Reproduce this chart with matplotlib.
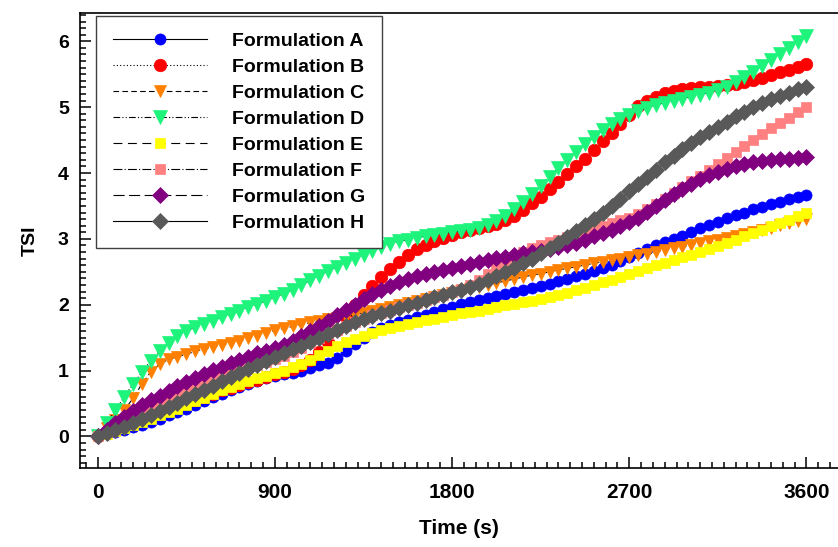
import numpy as np
import matplotlib
matplotlib.use("Agg")
import matplotlib.pyplot as plt
from matplotlib.ticker import MultipleLocator

# TSI readings, one scan every 45 s from 0 to 3600 s
time_s = list(range(0, 3601, 45))

tsi_a = [0, 0.03, 0.06, 0.10, 0.14, 0.18, 0.22, 0.27, 0.32, 0.37,
         0.42, 0.48, 0.54, 0.60, 0.65, 0.70, 0.75, 0.80, 0.84, 0.88,
         0.92, 0.95, 0.97, 1.00, 1.04, 1.08, 1.12, 1.19, 1.29, 1.40,
         1.50, 1.58, 1.64, 1.69, 1.73, 1.77, 1.81, 1.85, 1.89, 1.93,
         1.97, 2.01, 2.04, 2.07, 2.10, 2.13, 2.16, 2.20, 2.23, 2.26,
         2.29, 2.32, 2.36, 2.39, 2.43, 2.47, 2.51, 2.56, 2.61, 2.67,
         2.73, 2.79, 2.85, 2.90, 2.95, 3.00, 3.05, 3.10, 3.16, 3.21,
         3.26, 3.31, 3.36, 3.40, 3.45, 3.49, 3.53, 3.56, 3.60, 3.63,
         3.67]
tsi_b = [0, 0.05, 0.10, 0.15, 0.20, 0.25, 0.30, 0.35, 0.40, 0.45,
         0.50, 0.55, 0.60, 0.65, 0.70, 0.74, 0.78, 0.82, 0.86, 0.90,
         0.94, 0.98, 1.02, 1.08, 1.16, 1.28, 1.44, 1.62, 1.81, 1.99,
         2.15, 2.29, 2.42, 2.54, 2.65, 2.75, 2.84, 2.91, 2.97, 3.02,
         3.06, 3.10, 3.13, 3.16, 3.19, 3.23, 3.28, 3.35, 3.44, 3.54,
         3.64, 3.75, 3.86, 3.98, 4.10, 4.22, 4.35, 4.48, 4.61, 4.74,
         4.88, 5.02, 5.10, 5.16, 5.21, 5.24, 5.27, 5.29, 5.30, 5.31,
         5.32, 5.33, 5.35, 5.38, 5.41, 5.45, 5.49, 5.53, 5.57, 5.61,
         5.66]
tsi_c = [0, 0.12, 0.25, 0.40, 0.58, 0.80, 0.98, 1.10, 1.17, 1.21,
         1.25, 1.29, 1.33, 1.36, 1.39, 1.42, 1.45, 1.49, 1.53, 1.57,
         1.61, 1.64, 1.67, 1.70, 1.73, 1.76, 1.78, 1.80, 1.82, 1.85,
         1.88, 1.91, 1.94, 1.97, 2.00, 2.03, 2.06, 2.09, 2.12, 2.15,
         2.18, 2.21, 2.24, 2.27, 2.30, 2.33, 2.36, 2.39, 2.42, 2.45,
         2.47, 2.50, 2.53, 2.55, 2.58, 2.60, 2.63, 2.65, 2.68, 2.70,
         2.72, 2.75, 2.77, 2.80, 2.83, 2.86, 2.88, 2.91, 2.94, 2.96,
         2.99, 3.02, 3.05, 3.08, 3.11, 3.14, 3.17, 3.21, 3.24, 3.27,
         3.30]
tsi_d = [0, 0.20, 0.40, 0.60, 0.80, 0.98, 1.15, 1.30, 1.42, 1.52,
         1.60, 1.66, 1.71, 1.76, 1.81, 1.86, 1.91, 1.96, 2.01, 2.06,
         2.11, 2.17, 2.23, 2.30, 2.37, 2.44, 2.51, 2.58, 2.64, 2.70,
         2.76, 2.82, 2.87, 2.92, 2.96, 2.99, 3.02, 3.04, 3.06, 3.08,
         3.10, 3.12, 3.14, 3.17, 3.21, 3.27, 3.35, 3.45, 3.56, 3.68,
         3.81, 3.94, 4.07, 4.20, 4.32, 4.44, 4.55, 4.65, 4.74, 4.82,
         4.88, 4.94, 4.99, 5.03, 5.07, 5.10, 5.13, 5.16, 5.19, 5.22,
         5.26, 5.31, 5.38, 5.46, 5.54, 5.63, 5.72, 5.81, 5.90, 5.99,
         6.08]
tsi_e = [0, 0.04, 0.08, 0.12, 0.17, 0.22, 0.27, 0.32, 0.37, 0.42,
         0.48, 0.53, 0.59, 0.65, 0.70, 0.75, 0.79, 0.84, 0.88, 0.92,
         0.96, 1.00, 1.05, 1.10, 1.16, 1.23, 1.30, 1.37, 1.43, 1.48,
         1.53, 1.57, 1.61, 1.65, 1.68, 1.71, 1.74, 1.77, 1.79, 1.82,
         1.84, 1.87, 1.89, 1.91, 1.94, 1.96, 1.99, 2.01, 2.04, 2.06,
         2.09, 2.12, 2.15, 2.18, 2.22, 2.26, 2.30, 2.34, 2.38, 2.42,
         2.47, 2.51, 2.56, 2.60, 2.64, 2.68, 2.72, 2.76, 2.80, 2.84,
         2.89, 2.94, 2.99, 3.04, 3.09, 3.14, 3.19, 3.24, 3.29, 3.34,
         3.39]
tsi_f = [0, 0.07, 0.14, 0.21, 0.28, 0.35, 0.42, 0.49, 0.56, 0.62,
         0.68, 0.74, 0.80, 0.86, 0.91, 0.96, 1.00, 1.05, 1.09, 1.13,
         1.17, 1.22, 1.28, 1.35, 1.42, 1.49, 1.56, 1.62, 1.68, 1.74,
         1.79, 1.84, 1.88, 1.92, 1.96, 2.00, 2.03, 2.07, 2.11, 2.15,
         2.19, 2.24, 2.30, 2.38, 2.47, 2.56, 2.65, 2.73, 2.80, 2.86,
         2.91, 2.95, 2.99, 3.03, 3.07, 3.11, 3.15, 3.19, 3.24, 3.28,
         3.32, 3.38, 3.45, 3.53, 3.61, 3.70, 3.79, 3.88, 3.96, 4.05,
         4.14, 4.23, 4.32, 4.41, 4.50, 4.59, 4.68, 4.76, 4.84, 4.92,
         5.00]
tsi_g = [0, 0.10, 0.20, 0.30, 0.39, 0.47, 0.55, 0.62, 0.69, 0.76,
         0.83, 0.89, 0.95, 1.01, 1.06, 1.11, 1.16, 1.21, 1.26, 1.30,
         1.34, 1.39, 1.45, 1.52, 1.60, 1.68, 1.76, 1.84, 1.92, 2.00,
         2.08, 2.16, 2.23, 2.29, 2.34, 2.39, 2.43, 2.47, 2.50, 2.53,
         2.56, 2.59, 2.62, 2.65, 2.68, 2.71, 2.73, 2.76, 2.78, 2.80,
         2.82, 2.84, 2.87, 2.90, 2.94, 2.99, 3.04, 3.09, 3.14, 3.19,
         3.25, 3.32, 3.41, 3.50, 3.59, 3.68, 3.76, 3.84, 3.91, 3.97,
         4.02, 4.06, 4.10, 4.13, 4.16, 4.18, 4.20, 4.21, 4.22, 4.23,
         4.24]
tsi_h = [0, 0.05, 0.10, 0.15, 0.21, 0.27, 0.33, 0.39, 0.45, 0.51,
         0.58, 0.64, 0.71, 0.77, 0.84, 0.90, 0.96, 1.02, 1.08, 1.14,
         1.20, 1.26, 1.32, 1.38, 1.44, 1.50, 1.56, 1.62, 1.68, 1.73,
         1.78, 1.83, 1.87, 1.91, 1.95, 1.99, 2.03, 2.07, 2.11, 2.15,
         2.19, 2.23, 2.27, 2.32, 2.37, 2.43, 2.49, 2.56, 2.63, 2.70,
         2.78, 2.86, 2.94, 3.03, 3.12, 3.21, 3.30, 3.40, 3.50, 3.60,
         3.72, 3.83, 3.94, 4.05, 4.16, 4.26, 4.36, 4.45, 4.54, 4.62,
         4.70, 4.78, 4.86, 4.93, 5.00, 5.06, 5.12, 5.17, 5.22, 5.27,
         5.31]

labels = ["Formulation A", "Formulation B", "Formulation C", "Formulation D",
          "Formulation E", "Formulation F", "Formulation G", "Formulation H"]
series = [tsi_a, tsi_b, tsi_c, tsi_d, tsi_e, tsi_f, tsi_g, tsi_h]

# (marker, size, colour, linestyle) per formulation
styles = [
    ("o", 8.0, "#0000FF", "-"),
    ("o", 9.0, "#FF0000", (0, (1, 2))),
    ("v", 8.5, "#FF8000", (0, (5, 3))),
    ("v", 9.5, "#1EF47C", (0, (6, 2, 1, 2, 1, 2))),
    ("s", 7.5, "#FFFF00", (0, (8, 5))),
    ("s", 7.5, "#FF8080", (0, (8, 2, 1, 2))),
    ("D", 8.0, "#800080", (0, (10, 4))),
    ("D", 8.0, "#595959", "-"),
]

plt.rcParams["font.family"] = ["Liberation Sans", "DejaVu Sans"]
plt.rcParams["font.weight"] = "bold"
narrow = ["Liberation Sans Narrow", "Liberation Sans", "DejaVu Sans"]

fig = plt.figure(figsize=(8.38, 5.47), dpi=100)
ax = fig.add_axes([80 / 838, 79 / 547, 758 / 838, 455 / 547])

for y, lab, (mk, ms, col, ls) in zip(series, labels, styles):
    ax.plot(time_s, y, linestyle=ls, color="black", linewidth=0.8,
            marker=mk, markersize=ms, markerfacecolor=col,
            markeredgecolor=col, markeredgewidth=0.5, label=lab)

ax.set_xlim(-90, 3760)
ax.set_ylim(-0.48, 6.43)
ax.xaxis.set_major_locator(MultipleLocator(900))
ax.xaxis.set_minor_locator(MultipleLocator(60))
ax.yaxis.set_major_locator(MultipleLocator(1))
ax.yaxis.set_minor_locator(MultipleLocator(0.1))

ax.spines["right"].set_visible(False)
for side in ["left", "bottom", "top"]:
    ax.spines[side].set_linewidth(1.2)

ax.tick_params(which="both", direction="in", top=False, right=False, width=1.1)
ax.tick_params(which="major", length=8)
ax.tick_params(which="minor", length=4.5)
ax.tick_params(axis="x", pad=11)
ax.tick_params(axis="y", pad=8)

for t in ax.get_xticklabels():
    t.set_family(narrow)
    t.set_fontsize(15)
    t.set_fontweight("bold")
for t in ax.get_yticklabels():
    t.set_fontsize(14)
    t.set_fontweight("bold")

ax.set_xlabel("Time (s)", fontsize=15, fontweight="bold", family=narrow, labelpad=12)
ax.set_ylabel("TSI", fontsize=14, fontweight="bold", labelpad=14)

leg = ax.legend(loc="upper left", bbox_to_anchor=(96 / 838, 1 - 16 / 547),
                bbox_transform=fig.transFigure, borderaxespad=0, numpoints=1,
                prop={"size": 14, "weight": "bold"}, handlelength=4.85,
                handletextpad=1.3, labelspacing=0.43, borderpad=0.85,
                fancybox=False, framealpha=1)
leg.get_frame().set_edgecolor("#404040")
leg.get_frame().set_linewidth(1.0)

fig.savefig("out.png", dpi=100)
